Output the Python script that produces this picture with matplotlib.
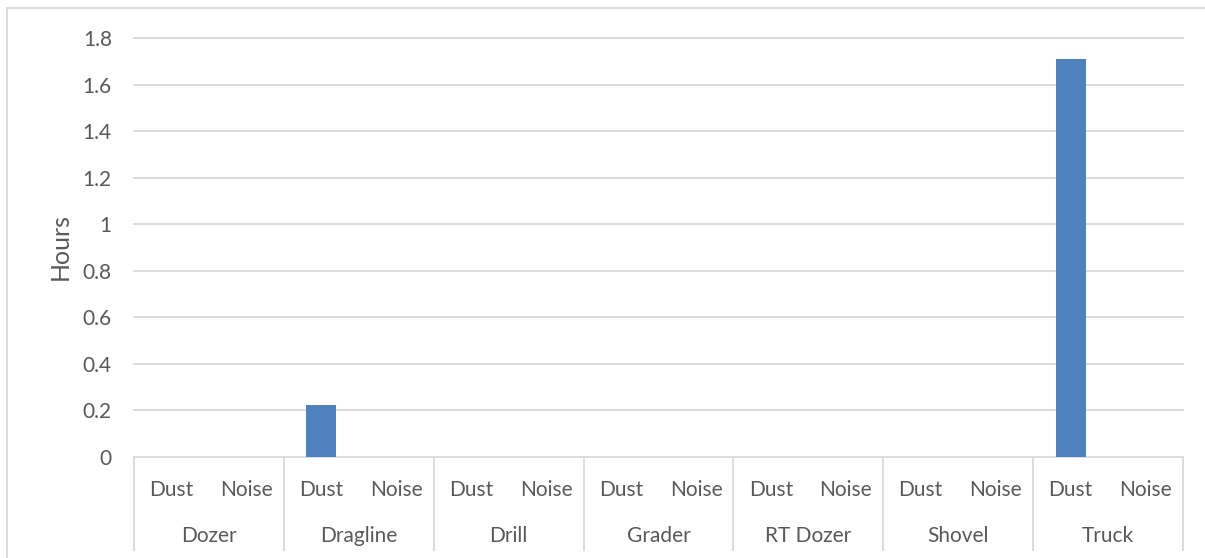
import matplotlib
matplotlib.use("Agg")
import matplotlib.pyplot as plt
from matplotlib.transforms import blended_transform_factory
from matplotlib.lines import Line2D

plt.rcParams['font.family'] = ['Lato', 'DejaVu Sans']

machines = ["Dozer", "Dragline", "Drill", "Grader", "RT Dozer", "Shovel", "Truck"]
hazards = ["Dust", "Noise"]
hours = [
    [0.0, 0.0],    # Dozer
    [0.225, 0.0],  # Dragline
    [0.0, 0.0],    # Drill
    [0.0, 0.0],    # Grader
    [0.0, 0.0],    # RT Dozer
    [0.0, 0.0],    # Shovel
    [1.71, 0.0],   # Truck
]
y_ticks = [0, 0.2, 0.4, 0.6, 0.8, 1.0, 1.2, 1.4, 1.6, 1.8]
y_tick_labels = ["0", "0.2", "0.4", "0.6", "0.8", "1", "1.2", "1.4", "1.6", "1.8"]

W, H = 1205, 558
fig = plt.figure(figsize=(W / 100, H / 100), dpi=100)

text_color = "#595959"
grid_color = "#d9d9d9"
bar_color = "#4f81bd"
fs = 15

# outer chart frame: left and top edges
fig.add_artist(Line2D([7 / W, 7 / W], [0, (H - 8) / H], transform=fig.transFigure,
                      color=grid_color, linewidth=1.3))
fig.add_artist(Line2D([7 / W, 1], [(H - 8) / H, (H - 8) / H], transform=fig.transFigure,
                      color=grid_color, linewidth=1.3))

left, right, bottom, top = 134, 1183, 457, 38
ax = fig.add_axes([left / W, (H - bottom) / H, (right - left) / W, (bottom - top) / H])

n = len(machines) * len(hazards)
xs = list(range(n))
vals = [v for row in hours for v in row]
ax.bar(xs, vals, width=0.4, color=bar_color, zorder=3)

ax.set_xlim(-0.5, n - 0.5)
ax.set_ylim(0, 1.8)
ax.set_yticks(y_ticks)
ax.set_yticklabels(y_tick_labels, fontsize=fs, color=text_color)
ax.tick_params(axis="y", length=0, pad=16)
ax.set_xticks([])
for y in y_ticks:
    ax.axhline(y, color=grid_color, linewidth=1.3, zorder=1, clip_on=False)
for s in ax.spines.values():
    s.set_visible(False)

fig.text(60 / W, (H - 246) / H, "Hours", rotation=90, ha="center", va="center",
         fontsize=18, color=text_color)

tr = blended_transform_factory(ax.transData, ax.transAxes)
axh = bottom - top
sep_bottom = -(550 - bottom) / axh
row1 = -(490 - bottom) / axh
row2 = -(536 - bottom) / axh

for k in range(len(machines) + 1):
    x = k * len(hazards) - 0.5
    ax.plot([x, x], [0, sep_bottom], transform=tr, color=grid_color,
            linewidth=1.3, clip_on=False)

for i, m in enumerate(machines):
    for j, hz in enumerate(hazards):
        ax.text(i * 2 + j, row1, hz, transform=tr, ha="center", va="center",
                fontsize=fs, color=text_color)
    ax.text(i * 2 + 0.5, row2, m, transform=tr, ha="center", va="center",
            fontsize=fs, color=text_color)

fig.savefig("out.png", dpi=100)
